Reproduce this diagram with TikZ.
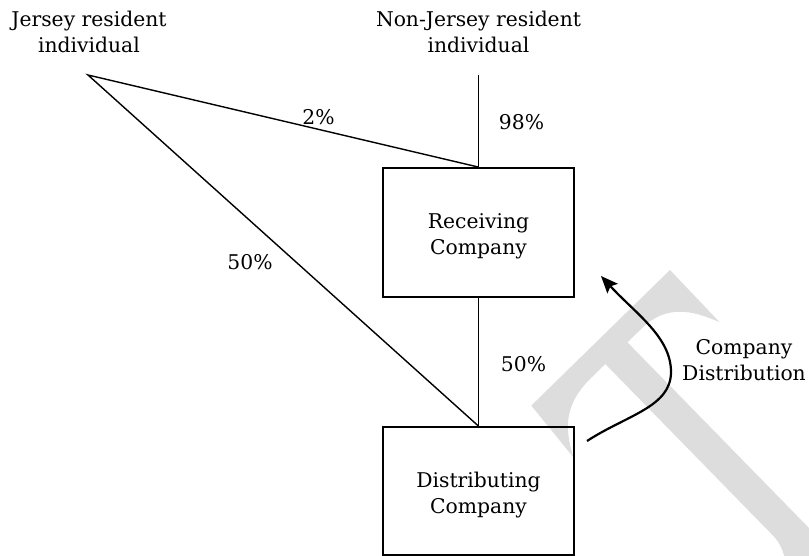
\documentclass[tikz,border=0pt]{standalone}
\usepackage{fontspec}
\setmainfont{DejaVu Serif}
\usetikzlibrary{arrows.meta}
\definecolor{markgray}{RGB}{221,221,221}
\begin{document}
\begin{tikzpicture}[x=1pt,y=-1pt,
  every node/.style={font=\fontsize{20.3}{26}\selectfont, inner sep=0pt},
  txt/.style={align=center},
  entity/.style={draw, line width=1.8pt, minimum width=191pt, minimum height=129pt},
  link/.style={line width=1.4pt, line join=miter},
  flow/.style={line width=2.2pt, -{Stealth[length=17pt,width=14pt,inset=3pt]}}]
\useasboundingbox (0,0) rectangle (809,556);

% light grey serif "T" mark in the background, tilted by 45 degrees
\begin{scope}
  \clip (0,0) rectangle (809,556);
  \fill[markgray, shift={(537,400)}, x={(0.715pt,0.699pt)}, y={(0.699pt,-0.715pt)}]
    (-8,0) -- (186,0) -- (185,72)
    .. controls (174,45) and (160,22) .. (125,22) -- (105,22)
    -- (105,340) -- (30,340)
    .. controls (55,300) and (74,285) .. (74,262) -- (74,22) -- (55,22)
    .. controls (15,22) and (0,40) .. (-14,66) -- cycle;
\end{scope}

% parties
\node[txt] (jr)  at (89,32.3)    {Jersey resident\\individual};
\node[txt] (njr) at (478.5,32.3) {Non-Jersey resident\\individual};
\coordinate (ja)  at (88,75);
\coordinate (nja) at (478.5,75);

% companies
\node[entity] (rc) at (478.5,232.5) {};
\node[entity, minimum height=128pt] (dc) at (478.5,491) {};
\node[txt] (rct) at ([yshift=-4pt]rc.center) {Receiving\\Company};
\node[txt] (dct) at ([yshift=-4pt]dc.center) {Distributing\\Company};

% shareholdings
\draw[link] (rc.north) -- (ja) -- (dc.north);
\draw[link] (nja) -- (rc.north);
\draw[link] (rc.south) -- (dc.north);

\node (l2)   at (318.5,117.6) {2\%};
\node (l98)  at (521.5,122.6) {98\%};
\node (l50a) at (250,262)     {50\%};
\node (l50b) at (523.5,364)   {50\%};

% distribution flow
\coordinate (cdstart) at (587,441);
\coordinate (cdend)   at (601,276);
\draw[flow] (cdstart) .. controls (627,415) and (671,407) .. (671,372)
            .. controls (671,337) and (636,314) .. (cdend);
\node[txt] (lcd) at (744,360.6) {Company\\Distribution};
\end{tikzpicture}
\end{document}
